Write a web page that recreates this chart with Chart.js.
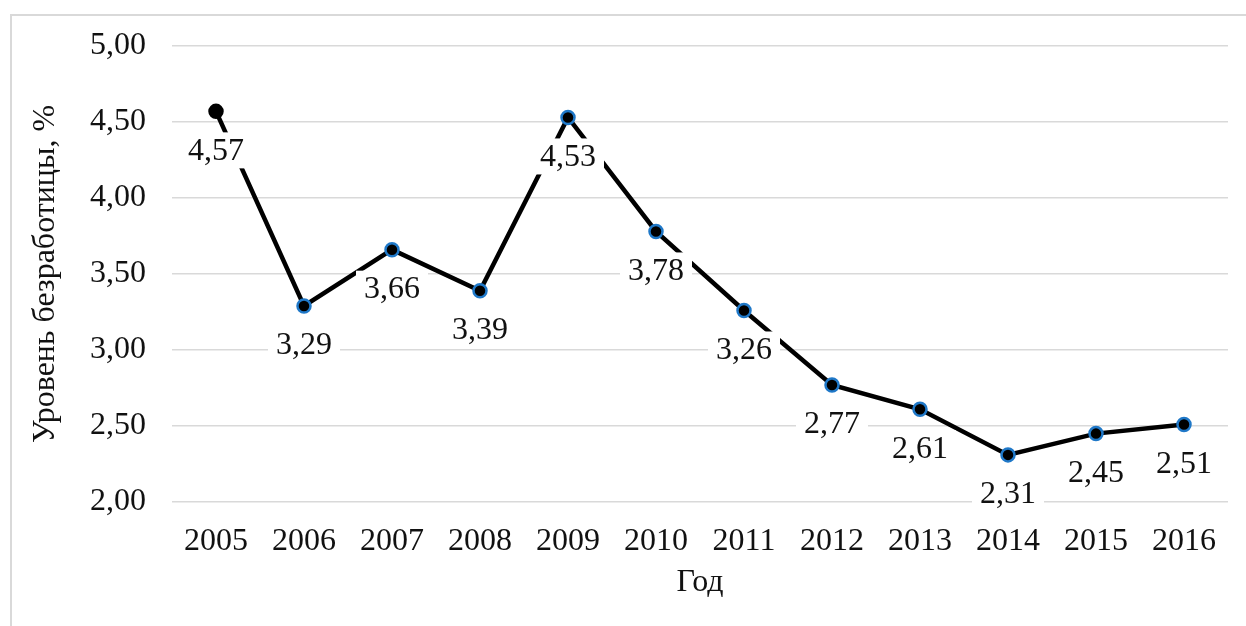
<!DOCTYPE html>
<html lang="ru">
<head>
<meta charset="utf-8">
<script src="https://cdn.jsdelivr.net/npm/chart.js@4"></script>
<style>
 html, body { margin: 0; padding: 0; background: #fff; overflow: hidden; }
 #frame { position: absolute; left: 10px; top: 14px; width: 1300px; height: 700px;
 border-top: 2px solid #d9d9d9; border-left: 2px solid #d9d9d9; }
 #wrap { position: absolute; left: 0; top: 0; width: 1246px; height: 626px; }
</style>
</head>
<body>
<div id="frame"></div>
<div id="wrap"><canvas id="chart"></canvas></div>
<script>
const years = ['2005', '2006', '2007', '2008', '2009', '2010', '2011', '2012', '2013', '2014', '2015', '2016'];
const unemployment = [4.57, 3.29, 3.66, 3.39, 4.53, 3.78, 3.26, 2.77, 2.61, 2.31, 2.45, 2.51];
const yTicks = [2.0, 2.5, 3.0, 3.5, 4.0, 4.5, 5.0];

const FONT = 'Liberation Serif, "Times New Roman", serif';
const SIZE = 32;
const fmt = v => v.toFixed(2).replace('.', ',');

// Excel-style value labels: white box under each point
const valueLabels = {
 id: 'valueLabels',
 afterDatasetsDraw(chart) {
 const { ctx } = chart;
 const meta = chart.getDatasetMeta(0);
 ctx.save();
 ctx.font = SIZE + 'px ' + FONT;
 ctx.textAlign = 'center';
 ctx.textBaseline = 'middle';
 meta.data.forEach((pt, i) => {
 const txt = fmt(unemployment[i]);
 const w = ctx.measureText(txt).width + 16;
 const h = 36;
 const y = pt.y + 39;
 ctx.fillStyle = '#fff';
 ctx.fillRect(pt.x - w / 2, y - h / 2, w, h);
 ctx.fillStyle = '#111';
 ctx.fillText(txt, pt.x, y + 1);
 });
 ctx.restore();
 }
};

new Chart(document.getElementById('chart'), {
 type: 'line',
 data: {
 labels: years,
 datasets: [{
 data: unemployment,
 borderColor: '#000',
 borderWidth: 4.5,
 pointRadius: 6.5,
 pointBorderWidth: 2.5,
 pointBackgroundColor: '#000',
 pointBorderColor: unemployment.map((v, i) => i === 0 ? '#000' : '#1f78c8'),
 tension: 0,
 fill: false,
 }],
 },
 options: {
 responsive: true,
 maintainAspectRatio: false,
 animation: false,
 layout: { padding: { left: 20, top: 46, right: 18, bottom: 0 } },
 plugins: {
 legend: { display: false },
 tooltip: { enabled: false },
 },
 scales: {
 x: {
 offset: true,
 grid: { display: false },
 border: { display: false },
 ticks: { color: '#111', font: { family: FONT, size: SIZE }, padding: 12, maxRotation: 0 },
 title: { display: true, text: 'Год', color: '#111', font: { family: FONT, size: SIZE }, padding: { top: 4, bottom: 24 } },
 afterFit: s => { s.height = 124; },
 },
 y: {
 min: 2,
 max: 5,
 afterBuildTicks: s => { s.ticks = yTicks.map(v => ({ value: v })); },
 grid: { color: '#d9d9d9', lineWidth: 1.5, drawTicks: false },
 border: { display: false },
 ticks: { color: '#111', font: { family: FONT, size: SIZE }, padding: 26, callback: v => fmt(v) },
 title: { display: true, text: 'Уровень безработицы, %', color: '#111', font: { family: FONT, size: SIZE }, padding: { top: 6, bottom: 0 } },
 afterFit: s => { s.width = 152; },
 },
 },
 },
 plugins: [valueLabels],
});
</script>
</body>
</html>
